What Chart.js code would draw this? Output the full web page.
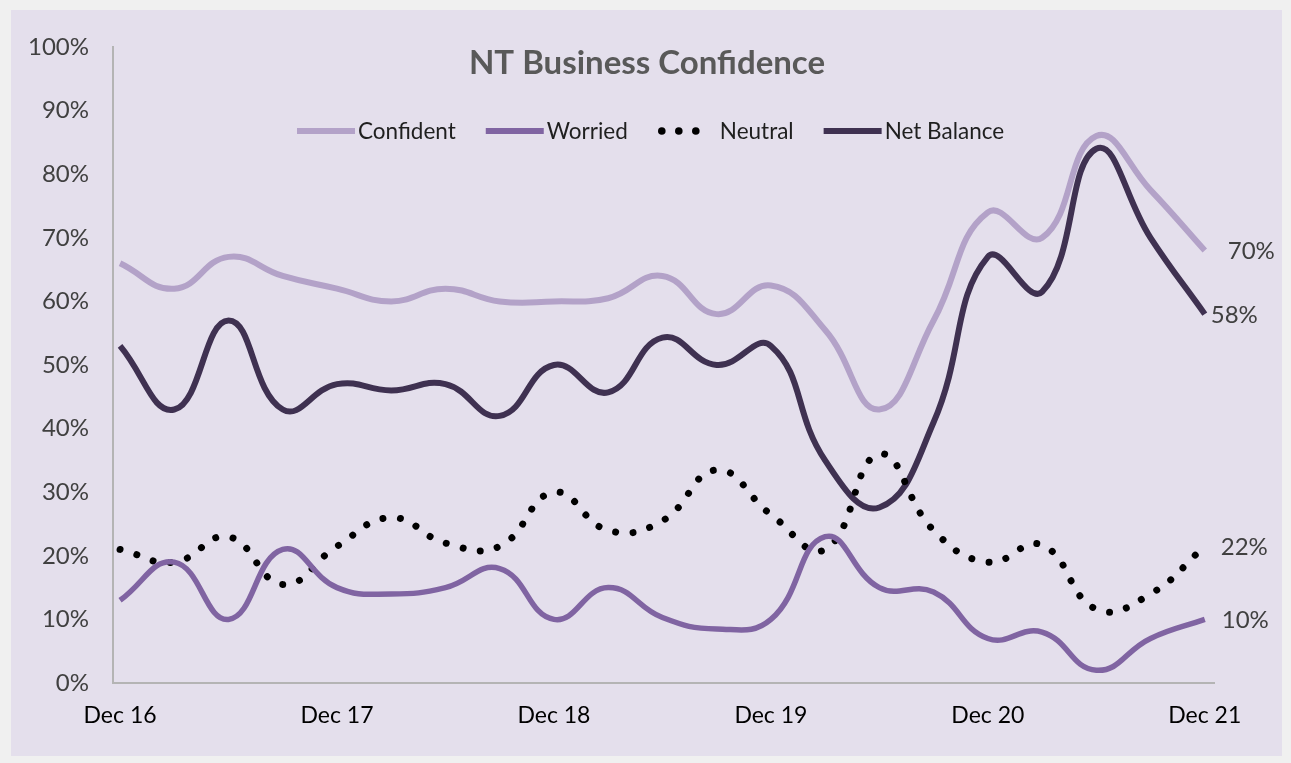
<!DOCTYPE html>
<html>
<head>
<meta charset="utf-8">
<title>NT Business Confidence</title>
<script src="https://cdn.jsdelivr.net/npm/chart.js@4.4.1/dist/chart.umd.min.js"></script>
<style>
  html, body { margin: 0; padding: 0; background: #f0f0f0; }
  #wrap { width: 1291px; height: 763px; }
</style>
</head>
<body>
<div id="wrap"><canvas id="chart-confidence"></canvas></div>
<script>
// quarterly survey, Dec 16 .. Dec 21
const quarters = [
  'Dec 16', 'Mar 17', 'Jun 17', 'Sep 17',
  'Dec 17', 'Mar 18', 'Jun 18', 'Sep 18',
  'Dec 18', 'Mar 19', 'Jun 19', 'Sep 19',
  'Dec 19', 'Mar 20', 'Jun 20', 'Sep 20',
  'Dec 20', 'Mar 21', 'Jun 21', 'Sep 21',
  'Dec 21'
];
const confident  = [66, 62, 67, 64, 62, 60, 62, 60, 60, 60.5, 64, 58, 62.5, 55.5, 43, 57, 74, 70, 86, 77.5, 68];
const worried    = [13, 19, 10, 21, 15, 14, 15, 18, 10, 15, 10.3, 8.5, 10, 23, 15, 14.3, 7, 8, 2, 7, 10];
const neutral    = [21, 19, 23, 15.5, 21.5, 26, 22, 21.5, 30, 24, 25.5, 33.5, 26.5, 21, 36, 24, 19, 21.7, 11.6, 14, 21.5];
const netBalance = [53, 43, 57, 43, 47, 46, 47, 42, 50, 45.7, 54.3, 50, 53, 35, 27.6, 41, 67, 61.5, 84, 70, 58];
const xTickIdx   = [0, 4, 8, 12, 16, 20];
const endLabels  = ['70%', '10%', '22%', '58%'];
const endOffsets = [23, 17, 16, 6];

const toPts = (arr) => arr.map((v, i) => ({ x: i, y: v }));

const FONT = 'Lato, "Open Sans", sans-serif';

const panelBg = {
  id: 'panelBg',
  beforeDraw(chart) {
    const ctx = chart.ctx;
    ctx.save();
    ctx.fillStyle = '#f0f0f0';
    ctx.fillRect(0, 0, chart.width, chart.height);
    ctx.fillStyle = '#e4dfec';
    ctx.fillRect(11, 10, 1271, 746);
    ctx.restore();
  }
};

const decorations = {
  id: 'decorations',
  afterDraw(chart) {
    const ctx = chart.ctx;
    ctx.save();

    // title
    ctx.font = 'bold 33px ' + FONT;
    ctx.fillStyle = '#595959';
    ctx.textAlign = 'center';
    ctx.textBaseline = 'middle';
    ctx.fillText('NT Business Confidence', 647, 63);

    // legend
    ctx.font = '22.5px ' + FONT;
    ctx.textAlign = 'left';
    let x = 297;
    const ly = 131;
    chart.data.datasets.forEach((ds) => {
      if (ds.borderDash && ds.borderDash.length) {
        ctx.fillStyle = ds.borderColor;
        for (let k = 0; k < 3; k++) {
          ctx.beginPath();
          ctx.arc(x + 4 + k * 17, ly, 3.8, 0, Math.PI * 2);
          ctx.fill();
        }
        x += 62;
      } else {
        ctx.strokeStyle = ds.borderColor;
        ctx.lineWidth = 6;
        ctx.lineCap = 'butt';
        ctx.beginPath();
        ctx.moveTo(x, ly);
        ctx.lineTo(x + 58, ly);
        ctx.stroke();
        x += 61;
      }
      ctx.fillStyle = '#1f1f1f';
      ctx.fillText(ds.label, x, ly + 1);
      x += ctx.measureText(ds.label).width + 30;
    });

    // end-of-line value labels
    ctx.font = '24px ' + FONT;
    ctx.fillStyle = '#404040';
    chart.data.datasets.forEach((ds, i) => {
      const meta = chart.getDatasetMeta(i);
      const pt = meta.data[meta.data.length - 1];
      ctx.fillText(endLabels[i], pt.x + endOffsets[i], pt.y + 1);
    });

    ctx.restore();
  }
};

const ctx = document.getElementById('chart-confidence').getContext('2d');
new Chart(ctx, {
  type: 'line',
  data: {
    datasets: [
      {
        label: 'Confident',
        data: toPts(confident),
        borderColor: '#b3a2c8',
        borderWidth: 6
      },
      {
        label: 'Worried',
        data: toPts(worried),
        borderColor: '#8064a2',
        borderWidth: 5.5
      },
      {
        label: 'Neutral',
        data: toPts(neutral),
        borderColor: '#000000',
        borderWidth: 7,
        borderDash: [0.01, 17.5],
        borderCapStyle: 'round'
      },
      {
        label: 'Net Balance',
        data: toPts(netBalance),
        borderColor: '#3f3151',
        borderWidth: 6
      }
    ]
  },
  options: {
    responsive: true,
    maintainAspectRatio: false,
    animation: false,
    layout: { padding: { top: 47, right: 77, bottom: 0, left: 0 } },
    elements: {
      point: { radius: 0, hoverRadius: 0 },
      line: { tension: 0.45, fill: false, borderJoinStyle: 'round' }
    },
    plugins: {
      legend: { display: false },
      title: { display: false },
      tooltip: { enabled: false }
    },
    scales: {
      x: {
        type: 'linear',
        min: -0.13,
        max: 20.17,
        afterBuildTicks: (s) => { s.ticks = xTickIdx.map((v) => ({ value: v })); },
        afterFit: (s) => { s.height = 80; },
        grid: { color: 'transparent', drawTicks: false },
        border: { color: '#b4b4b4', width: 2 },
        ticks: {
          autoSkip: false,
          maxRotation: 0,
          padding: 19,
          color: '#000000',
          font: { family: FONT, size: 23 },
          callback: (v) => quarters[v]
        }
      },
      y: {
        min: 0,
        max: 100,
        afterFit: (s) => { s.width = 113; },
        grid: { color: 'transparent', drawTicks: false },
        border: { color: '#b4b4b4', width: 2 },
        ticks: {
          stepSize: 10,
          padding: 24,
          color: '#404040',
          font: { family: FONT, size: 24 },
          callback: (v) => v + '%'
        }
      }
    }
  },
  plugins: [panelBg, decorations]
});
</script>
</body>
</html>
